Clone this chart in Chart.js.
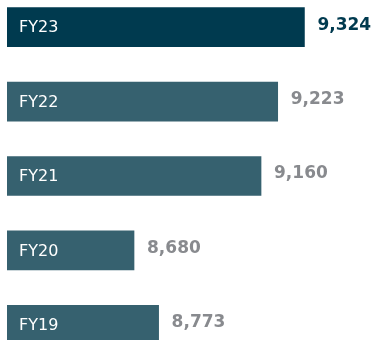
<!DOCTYPE html>
<html>
<head>
<meta charset="utf-8">
<script src="https://cdn.jsdelivr.net/npm/chart.js@4.4.0/dist/chart.umd.min.js"></script>
<style>
    html, body { margin: 0; padding: 0; background: #fff; }
    #wrap { position: relative; width: 372px; height: 340px; overflow: hidden; }
    #chart { position: absolute; left: 0; top: -10px; }
</style>
</head>
<body>
<div id="wrap"><canvas id="chart" width="372" height="372"></canvas></div>
<script>
const years = ['FY23', 'FY22', 'FY21', 'FY20', 'FY19'];
const values = [9324, 9223, 9160, 8680, 8773];
const barColors = ['#003a4f', '#36616f', '#36616f', '#36616f', '#36616f'];
const valueColors = ['#003a4f', '#888a8e', '#888a8e', '#888a8e', '#888a8e'];

// year inside the bar, number just past its end
const barLabels = {
    id: 'barLabels',
    afterDatasetsDraw(chart) {
        let ctx = chart.ctx;
        let meta = chart.getDatasetMeta(0);
        let left = chart.chartArea.left;
        ctx.save();
        ctx.textBaseline = 'middle';
        ctx.textAlign = 'left';
        meta.data.forEach((bar, i) => {
            ctx.font = '16px "DejaVu Sans"';
            ctx.fillStyle = '#ffffff';
            ctx.fillText(years[i], left + 12, bar.y + 1);

            ctx.font = 'bold 17px "DejaVu Sans"';
            ctx.fillStyle = valueColors[i];
            ctx.fillText(values[i].toLocaleString('en-US'), bar.x + 13, bar.y - 2);
        });
        ctx.restore();
    }
};

const data = {
    labels: years,
    datasets: [{
            data: values,
            backgroundColor: barColors,
            borderWidth: 0,
            barThickness: 39
        }]
};
const config = {
    type: 'bar',
    data: data,
    options: {
        indexAxis: 'y',
        responsive: false,
        animation: false,
        layout: { padding: { left: 7, right: 21, top: 0, bottom: 0 } },
        scales: {
            x: { display: false, min: 8200, max: 9500 },
            y: { display: false }
        },
        plugins: {
            legend: { display: false },
            tooltip: { enabled: false }
        }
    },
    plugins: [barLabels]
};

let ctx = document.getElementById('chart').getContext('2d');
new Chart(ctx, config);
</script>
</body>
</html>
